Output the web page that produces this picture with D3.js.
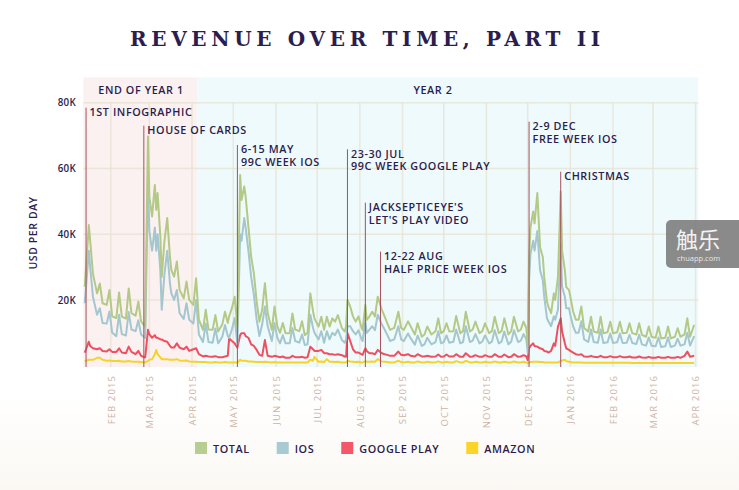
<!DOCTYPE html>
<html><head><meta charset="utf-8">
<script src="https://cdn.jsdelivr.net/npm/d3@7"></script>
<style>body{margin:0;background:#fff;}svg{display:block;}</style>
</head><body>
<svg id="chart" width="739" height="490"></svg>
<script>
// ---------------- DATA (values in thousands of USD per day) ----------------
const dates = [
 "2015-01-13","2015-01-14","2015-01-16","2015-01-17","2015-01-19","2015-01-22","2015-01-24","2015-01-26","2015-01-29","2015-01-31",
 "2015-02-02","2015-02-05","2015-02-07","2015-02-09","2015-02-12","2015-02-14","2015-02-16","2015-02-19","2015-02-21","2015-02-23","2015-02-26","2015-02-28",
 "2015-03-01","2015-03-03","2015-03-05","2015-03-06","2015-03-07","2015-03-09","2015-03-10","2015-03-12","2015-03-14","2015-03-16","2015-03-17","2015-03-19","2015-03-21","2015-03-23","2015-03-26","2015-03-28","2015-03-30",
 "2015-04-02","2015-04-04","2015-04-06","2015-04-09","2015-04-11","2015-04-13","2015-04-16","2015-04-18","2015-04-20","2015-04-23","2015-04-25","2015-04-27","2015-04-28","2015-04-30",
 "2015-05-02","2015-05-04","2015-05-06","2015-05-07","2015-05-09","2015-05-10","2015-05-12","2015-05-14","2015-05-16","2015-05-18","2015-05-20","2015-05-22","2015-05-24","2015-05-26","2015-05-29","2015-05-31",
 "2015-06-02","2015-06-04","2015-06-06","2015-06-08","2015-06-11","2015-06-13","2015-06-15","2015-06-18","2015-06-20","2015-06-22","2015-06-24","2015-06-26","2015-06-28","2015-06-29",
 "2015-07-02","2015-07-04","2015-07-06","2015-07-08","2015-07-10","2015-07-12","2015-07-14","2015-07-16","2015-07-19","2015-07-21","2015-07-22","2015-07-23","2015-07-25","2015-07-27","2015-07-29","2015-07-31",
 "2015-08-02","2015-08-03","2015-08-05","2015-08-06","2015-08-08","2015-08-10","2015-08-12","2015-08-14","2015-08-17","2015-08-19","2015-08-21","2015-08-23","2015-08-26","2015-08-29","2015-08-31",
 "2015-09-02","2015-09-05","2015-09-07","2015-09-10","2015-09-12","2015-09-15","2015-09-17","2015-09-19","2015-09-22","2015-09-25","2015-09-27","2015-09-29",
 "2015-10-01","2015-10-03","2015-10-05","2015-10-08","2015-10-10","2015-10-13","2015-10-15","2015-10-17","2015-10-20","2015-10-22","2015-10-24","2015-10-27","2015-10-29","2015-10-31",
 "2015-11-03","2015-11-05","2015-11-07","2015-11-10","2015-11-12","2015-11-14","2015-11-17","2015-11-19","2015-11-21","2015-11-24","2015-11-26","2015-11-28","2015-11-30",
 "2015-12-01","2015-12-02","2015-12-03","2015-12-05","2015-12-06","2015-12-08","2015-12-10","2015-12-12","2015-12-13","2015-12-15","2015-12-16","2015-12-18","2015-12-20","2015-12-21","2015-12-23","2015-12-24","2015-12-25","2015-12-26","2015-12-28","2015-12-29","2015-12-31",
 "2016-01-01","2016-01-03","2016-01-05","2016-01-07","2016-01-09","2016-01-11","2016-01-14","2016-01-16","2016-01-18","2016-01-21","2016-01-23","2016-01-25","2016-01-28","2016-01-30",
 "2016-02-01","2016-02-04","2016-02-06","2016-02-08","2016-02-11","2016-02-13","2016-02-15","2016-02-18","2016-02-20","2016-02-22","2016-02-25","2016-02-27","2016-02-29",
 "2016-03-03","2016-03-05","2016-03-07","2016-03-10","2016-03-12","2016-03-14","2016-03-17","2016-03-19","2016-03-21","2016-03-24","2016-03-26","2016-03-28","2016-03-31"
];
const totalValues = [
 24,30,42.8,38,28,22,25,19,18.5,23,
 15,14.5,22.3,14.9,14.3,23.5,16,15.2,19.5,13.5,11.9,69.7,
 51.4,45.4,55,47.4,52.5,39.3,27,38,44.9,33,29.1,27.1,31.7,23,20.5,25.6,20,
 18.5,26.6,14,10.9,17,11,10.9,15.4,10.4,12.5,16.4,13,15,17.5,
 21,11.9,58,50.4,54.5,51.4,42.3,33.2,28,19.5,13.4,17,25.1,16,10.9,18,
 12,10,13,9.9,9.9,15.9,11,10.5,13.5,9.3,10,22,16.5,14.4,
 11.9,14.9,10.9,14.9,11.9,14.4,13.4,15.4,11.4,10.4,11.9,20,18,15,13.4,15,
 11.9,10.9,18.5,13.9,15,16.4,15,21,17,15,12.9,10.9,11.5,16.4,11.5,
 10.9,13.5,11.9,9.5,12.9,8.8,9.5,11.9,9.5,10.5,14.4,9.9,
 10.5,12.9,10.4,10.5,15.1,9.9,10.5,16.4,10.4,11,13.4,9.9,10.5,12.9,
 9.9,10.5,14.9,9.9,10.5,14.4,9.5,10.5,14.9,10.4,11,13.4,11.4,
 6.3,33,42,46.9,43.3,52.5,36,33,27,19.5,18,16,22,20,27.1,40,53,35,29.1,24,23,
 21,16.5,14,14,18,11.5,10.4,14.9,10.4,10,14.9,9.9,10.2,13.4,
 9.9,10.2,13.4,9.9,10,12.9,9.9,9.5,12.9,9.4,8.8,11.9,8.8,
 8.5,11.9,8.3,8.5,11.9,8.3,8.8,11.4,8.8,9.5,14.4,8.8,12.4
];
const iosValues = [
 19,24,35,30,21,15.5,17.5,13,12.8,16.5,
 10,9,15.5,9.6,9.2,16.3,11,10.5,13.8,9.5,8.4,56,
 41,35,42,35,40,29,17,28,35,25,22,20,23,16,14.2,19,14,
 12.8,20,9.5,7.2,12.8,7.2,7,11.3,6.8,8.8,12.4,9,8.5,11,
 14.5,6.5,40,38,44.9,42,35,27,21.5,14,9,12.5,18,12,7.5,13,
 8.5,6.8,9.3,6.8,6.8,11.5,7.5,7,9.5,6.3,6.5,15.5,11.5,10,
 8,10.5,7,10.5,8,10,9.3,11,7.8,7,8,12,12,10.5,9.5,10.8,
 8.3,7.5,13.5,10,11,12,10.8,15.5,12.5,11,9.3,7.5,8,12,8,
 7.5,9.8,8.3,6.4,9.2,6,6.5,8.5,6.5,7.2,10.5,6.8,
 7.2,9.2,7,7.3,11,6.8,7.2,12,7.2,7.6,9.6,6.8,7.3,9.2,
 6.8,7.3,10.8,6.8,7.3,10.4,6.5,7.3,10.8,7.2,7.6,9.6,8,
 4,26,34,38,35,41,29,26,21,14.5,13.5,12,15,14,17,27,37,24,21,17.5,17.5,
 15.5,12,10,10,13.5,8,7.2,11,7.2,7,11,6.9,7.1,9.8,
 6.9,7.1,9.8,6.9,7,9.4,6.9,6.6,9.4,6.5,6.1,8.6,6.1,
 5.9,8.6,5.7,5.9,8.6,5.7,6.1,8.2,6.1,6.5,10,6.1,9
];
const googlePlayValues = [
 4.0,5.0,7.3,6.0,5.3,5.0,5.3,4.5,4.3,5.0,
 4.2,4.2,5.3,4.0,3.8,5.8,4.2,3.5,4.5,3.0,2.5,10.9,
 9.5,8.5,9.3,8.5,8.5,8.0,8.0,7.5,7.3,6.0,5.5,5.5,6.8,5.5,5.0,5.8,4.5,
 5.0,5.3,3.5,2.8,3.0,2.8,2.7,2.9,2.6,2.6,2.8,3.0,8.3,7.5,
 6.8,5.5,9.3,9.9,9.9,9.0,8.5,6.5,6.0,4.8,3.3,3.0,7.8,3.0,2.7,3.0,
 2.8,2.6,2.8,2.4,2.4,3.0,2.6,2.6,2.7,2.4,2.6,5.8,5.0,4.5,
 4.5,4.8,3.8,3.8,3.5,3.5,3.3,3.5,3.2,2.8,2.7,9.9,7.5,5.0,4.0,4.0,
 3.5,3.3,5.3,4.5,3.8,3.8,3.5,4.8,3.8,3.5,3.3,3.0,3.0,4.3,3.3,
 3.2,3.5,3.0,2.8,3.5,2.8,2.8,3.0,2.7,2.8,3.4,2.7,
 2.8,3.4,2.8,2.8,3.5,2.7,2.7,3.8,2.7,2.8,3.2,2.7,2.7,3.2,
 2.7,2.7,3.5,2.7,2.7,3.4,2.6,2.7,3.5,2.7,2.8,3.2,2.8,
 1.7,5.3,6.0,6.8,6.0,5.8,5.3,5.0,4.5,4.3,4.0,4.5,6.8,6.0,11.9,13.0,14.4,10.4,6.8,5.3,4.8,
 4.5,4.0,3.5,3.3,3.5,2.8,2.7,3.0,2.7,2.6,3.0,2.6,2.6,2.9,
 2.6,2.6,2.9,2.6,2.6,2.8,2.5,2.5,2.8,2.5,2.4,2.7,2.4,
 2.4,2.7,2.4,2.4,2.7,2.4,2.4,2.7,2.4,3.0,4.3,2.7,3.0
];
const amazonValues = [
 1.4,1.5,1.8,1.8,1.8,2.4,2.4,1.8,1.5,1.6,
 1.4,1.4,1.5,1.3,1.3,1.4,1.3,1.2,1.2,1.1,1.0,1.5,
 1.8,2.0,3.5,4.8,3.5,2.5,2.0,2.0,2.0,1.8,1.8,1.8,2.0,1.6,1.5,1.6,1.3,
 1.2,1.2,1.1,1.1,1.1,1.0,1.0,1.1,1.0,1.0,1.1,1.0,1.0,1.0,
 1.0,1.0,1.8,1.5,1.5,1.5,1.3,1.3,1.2,1.1,1.1,1.1,1.2,1.1,1.0,1.1,
 1.0,1.0,1.0,1.0,1.0,1.0,1.0,1.0,1.0,1.0,1.0,1.8,1.5,2.7,
 1.2,1.3,1.1,2.0,1.2,1.2,1.1,1.2,1.0,1.0,1.0,1.5,1.3,1.2,1.1,1.2,
 1.0,1.0,1.4,1.2,1.2,1.3,1.2,2.0,1.3,1.2,1.1,1.0,1.0,1.5,1.1,
 1.0,1.2,1.0,1.0,1.3,1.0,1.0,1.2,1.0,1.0,1.3,1.0,
 1.0,1.2,1.0,1.0,1.4,1.0,1.0,1.5,1.0,1.0,1.2,1.0,1.0,1.2,
 1.0,1.0,1.3,1.0,1.0,1.2,1.0,1.0,1.3,1.0,1.0,1.2,1.0,
 0.8,1.0,1.1,1.2,1.2,1.2,1.1,1.1,1.0,1.0,1.0,1.0,1.0,1.0,1.0,1.2,1.5,1.6,1.8,1.4,1.2,
 1.1,1.0,1.0,1.0,1.0,0.9,0.9,0.9,0.9,0.9,0.9,0.9,0.9,0.9,
 0.9,0.9,0.9,0.9,0.9,0.9,0.8,0.8,0.9,0.8,0.8,0.8,0.8,
 0.8,0.8,0.8,0.8,0.8,0.8,0.8,0.8,0.8,0.8,0.8,0.8,0.8
];
const seriesNames = ["TOTAL","IOS","GOOGLE PLAY","AMAZON"];
const monthTicks = ["2015-02-01","2015-03-01","2015-04-01","2015-05-01","2015-06-01","2015-07-01","2015-08-01","2015-09-01","2015-10-01","2015-11-01","2015-12-01","2016-01-01","2016-02-01","2016-03-01","2016-04-01"];
const yTicks = [20,40,60,80];
const periodLabels = ["END OF YEAR 1","YEAR 2"];
const periodStarts = ["2015-01-12","2015-04-05"];
const periodEnds = ["2015-04-05","2016-04-03"];
const annotationDates = ["2015-01-14","2015-02-25","2015-05-04","2015-07-23","2015-08-05","2015-08-16","2015-12-02","2015-12-25"];
const annotationTexts = [["1ST INFOGRAPHIC"],["HOUSE OF CARDS"],["6-15 MAY","99C WEEK IOS"],["23-30 JUL","99C WEEK GOOGLE PLAY"],["JACKSEPTICEYE'S","LET'S PLAY VIDEO"],["12-22 AUG","HALF PRICE WEEK IOS"],["2-9 DEC","FREE WEEK IOS"],["CHRISTMAS"]];

// ---------------- LAYOUT / STYLE ----------------
const seriesColors = ["#b3c985","#a3c6cf","#ef4f60","#f7d229"];
const legendColors = ["#b7cd92","#a8cad2","#f25868","#f9d52a"];
const annotationTopY = [107.7,125.7,145,149.3,202.7,251.7,121.7,171.7];
const navy = "#2b1d4e";
const sans = "'Open Sans', 'Noto Sans', sans-serif";

const svg = d3.select("#chart");
const parse = d3.timeParse("%Y-%m-%d");
const x = d3.scaleTime().domain([parse("2015-01-12"), parse("2016-04-03")]).range([83.3, 698.3]);
const y = d3.scaleLinear().domain([0, 80]).range([365.7, 102.7]);
const bandTop = 77.3, plotBottom = 367;

// background (very faint warm tint toward the bottom)
const defs = svg.append("defs");
const lg = defs.append("linearGradient").attr("id","warm").attr("x1",0).attr("y1",0).attr("x2",0).attr("y2",1);
lg.append("stop").attr("offset","0%").attr("stop-color","#ffffff");
lg.append("stop").attr("offset","80%").attr("stop-color","#ffffff");
lg.append("stop").attr("offset","100%").attr("stop-color","#fbf8f4");
svg.append("rect").attr("x",0).attr("y",0).attr("width",739).attr("height",490).attr("fill","url(#warm)");

// title
svg.append("text").attr("x",130).attr("y",46).attr("textLength",470).attr("lengthAdjust","spacing")
  .attr("font-family","'DejaVu Serif', serif").attr("font-weight",700).attr("font-size",20).attr("fill",navy)
  .text("REVENUE OVER TIME, PART II");

// period bands
const bandFill = ["#fbf1f0","#effafc"];
periodLabels.forEach((lab,i)=>{
  const x0 = x(parse(periodStarts[i])), x1 = x(parse(periodEnds[i]));
  svg.append("rect").attr("x",x0).attr("y",bandTop).attr("width",x1-x0).attr("height",plotBottom-bandTop).attr("fill",bandFill[i]);
  svg.append("text").attr("x",i===0?141:433).attr("y",94).attr("text-anchor","middle")
    .attr("font-family",sans).attr("font-weight",600).attr("font-size",10.8).attr("letter-spacing",0.6).attr("fill",navy).text(lab);
});

// grid
const grid = svg.append("g").attr("stroke","#e6e1d3").attr("stroke-opacity",0.75).attr("stroke-width",1.5);
yTicks.forEach(t=>grid.append("line").attr("x1",83.3).attr("x2",698.3).attr("y1",y(t)).attr("y2",y(t)));
monthTicks.forEach(t=>grid.append("line").attr("x1",x(parse(t))).attr("x2",x(parse(t))).attr("y1",y(80)).attr("y2",plotBottom));

// y axis
const gy = svg.append("g").attr("transform","translate(76,0)")
  .call(d3.axisLeft(y).tickValues(yTicks).tickFormat(d=>d+"K").tickSize(0).tickPadding(0));
gy.select(".domain").remove();
gy.selectAll("text").attr("font-family",sans).attr("font-weight",600).attr("font-size",9.8).attr("letter-spacing",0.3).attr("fill",navy);
svg.append("text").attr("transform","translate(37,233) rotate(-90)").attr("text-anchor","middle")
  .attr("font-family",sans).attr("font-weight",600).attr("font-size",10.5).attr("letter-spacing",0.6).attr("fill",navy)
  .text("USD PER DAY");

// x axis
const fmt = d3.timeFormat("%b %Y");
const gx = svg.append("g").attr("transform",`translate(0,${plotBottom})`)
  .call(d3.axisBottom(x).tickValues(monthTicks.map(parse)).tickFormat(d=>fmt(d).toUpperCase()).tickSize(0));
gx.select(".domain").remove();
gx.selectAll("text").attr("transform","rotate(-90)").attr("text-anchor","end")
  .attr("x",-8).attr("y",0).attr("dy","0.36em")
  .attr("font-family",sans).attr("font-size",9.5).attr("letter-spacing",1.1).attr("fill","#cdb4a5");

// series lines
const rows = dates.map((d,i)=>({date:parse(d), v:[totalValues[i], iosValues[i], googlePlayValues[i], amazonValues[i]]}));
const lineGen = k => d3.line().x(d=>x(d.date)).y(d=>y(d.v[k]));
[3,2,1,0].forEach(k=>{
  svg.append("path").datum(rows).attr("d",lineGen(k)).attr("fill","none")
    .attr("stroke",seriesColors[k]).attr("stroke-width",2).attr("stroke-linejoin","round");
});

// annotations
annotationDates.forEach((d,i)=>{
  const ax = x(parse(d));
  svg.append("line").attr("x1",ax).attr("x2",ax).attr("y1",annotationTopY[i]).attr("y2",plotBottom)
    .attr("stroke","#a5505a").attr("stroke-width",1);
  annotationTexts[i].forEach((t,j)=>{
    svg.append("text").attr("x",ax+3.5).attr("y",annotationTopY[i]+8.4+j*12.5)
      .attr("font-family",sans).attr("font-weight",600).attr("font-size",10.8).attr("letter-spacing",0.6).attr("fill",navy).text(t);
  });
});

// legend
let lx = 195;
seriesNames.forEach((n,i)=>{
  const g = svg.append("g");
  g.append("rect").attr("x",lx).attr("y",442).attr("width",12).attr("height",12).attr("fill",legendColors[i]);
  const t = g.append("text").attr("x",lx+18).attr("y",452.5).attr("font-family",sans).attr("font-weight",600)
    .attr("font-size",10.8).attr("letter-spacing",0.6).attr("fill",navy).text(n);
  lx += 18 + t.node().getComputedTextLength() + 27;
});

// watermark
const wm = svg.append("g");
wm.append("rect").attr("x",666).attr("y",220).attr("width",90).attr("height",48).attr("rx",5).attr("fill","#7d7d7d").attr("fill-opacity",0.9);
wm.append("text").attr("x",676).attr("y",248).attr("font-family","'Noto Sans CJK SC', sans-serif").attr("font-size",22).attr("fill","#f2f2f2").text("触乐");
wm.append("text").attr("x",677).attr("y",261).attr("font-family",sans).attr("font-size",7.5).attr("fill","#e6e6e6").text("chuapp.com");
</script>
</body></html>
